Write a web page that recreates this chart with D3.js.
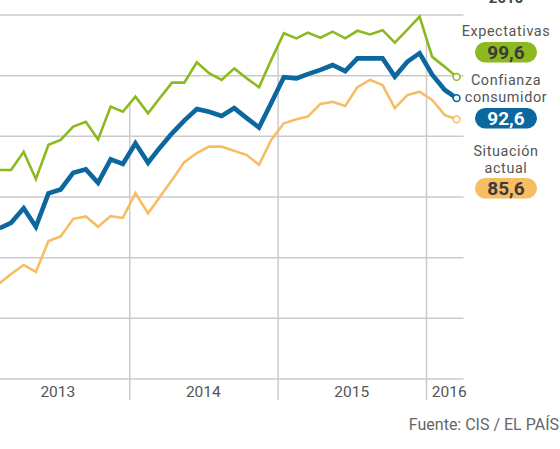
<!DOCTYPE html>
<html>
<head>
<meta charset="utf-8">
<script src="https://cdn.jsdelivr.net/npm/d3@7"></script>
<style>
  html, body { margin: 0; padding: 0; background: #fff; }
  svg { display: block; font-family: Roboto, "Noto Sans", sans-serif; }
</style>
</head>
<body>
<div id="chart"></div>
<script>
// Índice de Confianza del Consumidor (CIS), mensual feb 2013 - mar 2016

const months = [
  '2013-02','2013-03','2013-04','2013-05','2013-06','2013-07','2013-08','2013-09','2013-10','2013-11','2013-12',
  '2014-01','2014-02','2014-03','2014-04','2014-05','2014-06','2014-07','2014-08','2014-09','2014-10','2014-11','2014-12',
  '2015-01','2015-02','2015-03','2015-04','2015-05','2015-06','2015-07','2015-08','2015-09','2015-10','2015-11','2015-12',
  '2016-01','2016-02','2016-03'
];

const expectativas = [
  68.9, 68.9, 74.9, 65.9, 77.2, 78.8, 83.2, 84.8, 79.0, 89.8, 88.1,
  93.1, 87.6, 92.5, 97.7, 97.7, 104.4, 100.8, 98.6, 102.4, 99.2, 96.2, 105.2,
  114.0, 112.3, 114.2, 112.5, 114.5, 112.3, 114.8, 113.6, 115.0, 110.9, 115.2, 119.5,
  106.2, 102.9, 99.6
];

const confianza = [
  49.7, 51.5, 56.3, 50.2, 61.2, 62.5, 68.0, 69.1, 64.7, 72.4, 70.9,
  77.7, 71.3, 76.1, 81.0, 85.2, 89.0, 88.1, 86.7, 89.3, 86.1, 82.9, 91.0,
  99.5, 99.1, 100.5, 101.9, 103.5, 101.5, 105.7, 105.7, 105.7, 99.7, 104.6, 107.4,
  100.3, 95.3, 92.6
];

const situacion = [
  31.6, 34.6, 37.6, 35.3, 45.5, 47.0, 52.8, 53.6, 50.2, 53.7, 53.1,
  61.3, 54.6, 59.8, 65.6, 71.5, 74.5, 76.6, 76.6, 75.2, 73.9, 70.6, 78.8,
  84.3, 85.6, 86.5, 90.7, 91.4, 90.0, 96.2, 98.6, 96.9, 89.3, 93.6, 94.7,
  92.0, 87.0, 85.6
];

const yTicks = [0, 20, 40, 60, 80, 100, 120];
const yearLabels = ['2013', '2014', '2015', '2016'];
const yearBreaks = ['2014-01-01', '2015-01-01', '2016-01-01'];

const COLORS = {
  expectativas: '#8cb91f',
  confianza: '#0b679d',
  situacion: '#f7bd63',
  grid: '#cbcbcb',
  text: '#555'
};

const width = 560, height = 449;
const parseMonth = d3.timeParse('%Y-%m');
const parseDay = d3.timeParse('%Y-%m-%d');
// each monthly value is plotted mid-month
const dates = months.map(m => d3.timeDay.offset(parseMonth(m), 14));

const x = d3.scaleTime()
  .domain([parseDay('2013-01-01'), parseDay('2016-04-01')])
  .range([-18.6, 463.5]);
const y = d3.scaleLinear().domain([0, 120]).range([379, 15]);

const svg = d3.select('#chart').append('svg')
  .attr('width', width).attr('height', height)
  .attr('viewBox', `0 0 ${width} ${height}`);

// horizontal grid
svg.append('g').selectAll('line').data(yTicks).join('line')
  .attr('x1', 0).attr('x2', x.range()[1])
  .attr('y1', d => y(d)).attr('y2', d => y(d))
  .attr('stroke', COLORS.grid).attr('stroke-width', 1.5);

// year separators: from below the axis up to the top series
function valueAt(series, date) {
  const i = d3.bisectLeft(dates, date);
  const d0 = dates[i - 1], d1 = dates[i];
  const t = (date - d0) / (d1 - d0);
  return series[i - 1] + t * (series[i] - series[i - 1]);
}
svg.append('g').selectAll('line').data(yearBreaks.map(parseDay)).join('line')
  .attr('x1', d => x(d)).attr('x2', d => x(d))
  .attr('y1', 400).attr('y2', d => y(valueAt(expectativas, d)))
  .attr('stroke', COLORS.grid).attr('stroke-width', 1.5);

// year labels
const labelDates = [
  parseDay('2013-07-08'), parseDay('2014-07-01'), parseDay('2015-07-01'), parseDay('2016-02-26')
];
svg.append('g').selectAll('text').data(yearLabels).join('text')
  .attr('x', (d, i) => x(labelDates[i]))
  .attr('y', 397)
  .attr('text-anchor', 'middle')
  .attr('font-size', 15.5)
  .attr('fill', COLORS.text)
  .text(d => d);

// series
const line = d3.line()
  .x((d, i) => x(dates[i]))
  .y(d => y(d));

const series = [
  { key: 'expectativas', values: expectativas, w: 2.6 },
  { key: 'situacion', values: situacion, w: 2.6 },
  { key: 'confianza', values: confianza, w: 4.6 }
];

svg.append('g').selectAll('path').data(series).join('path')
  .attr('d', d => line(d.values))
  .attr('fill', 'none')
  .attr('stroke', d => COLORS[d.key])
  .attr('stroke-width', d => d.w);

const last = dates.length - 1;
svg.append('g').selectAll('circle').data(series).join('circle')
  .attr('cx', x(dates[last]))
  .attr('cy', d => y(d.values[last]))
  .attr('r', 3.4)
  .attr('fill', '#fff')
  .attr('stroke', d => COLORS[d.key])
  .attr('stroke-width', 1.6);

// right-hand labels
const fmt = v => d3.format('.1f')(v).replace('.', ',');
const cx = 506;
const labels = [
  { lines: ['Expectativas'], lineY: [36], badgeY: 42, key: 'expectativas', value: expectativas[last], ink: '#3b3b3b' },
  { lines: ['Confianza', 'consumidor'], lineY: [85, 102], badgeY: 108, key: 'confianza', value: confianza[last], ink: '#fff' },
  { lines: ['Situación', 'actual'], lineY: [156, 173], badgeY: 178, key: 'situacion', value: situacion[last], ink: '#3b3b3b' }
];

const lg = svg.append('g');
labels.forEach(l => {
  l.lines.forEach((t, i) => {
    lg.append('text')
      .attr('x', cx).attr('y', l.lineY[i])
      .attr('text-anchor', 'middle')
      .attr('font-size', 14.4)
      .attr('letter-spacing', 0.6)
      .attr('fill', COLORS.text)
      .text(t);
  });
  lg.append('rect')
    .attr('x', cx - 31).attr('y', l.badgeY)
    .attr('width', 62).attr('height', 20.5)
    .attr('rx', 10.25)
    .attr('fill', COLORS[l.key]);
  lg.append('text')
    .attr('x', cx).attr('y', l.badgeY + 17)
    .attr('text-anchor', 'middle')
    .attr('font-size', 19)
    .attr('font-weight', 'bold')
    .attr('fill', l.ink)
    .text(fmt(l.value));
});

// header (cut off at the top edge, as in the original crop)
svg.append('text')
  .attr('x', cx).attr('y', 3)
  .attr('text-anchor', 'middle')
  .attr('font-size', 15)
  .attr('font-weight', 'bold')
  .attr('fill', '#444')
  .text('2016');

// source
svg.append('text')
  .attr('x', 559).attr('y', 430)
  .attr('text-anchor', 'end')
  .attr('font-size', 16)
  .attr('fill', '#666')
  .text('Fuente: CIS / EL PAÍS');
</script>
</body>
</html>
